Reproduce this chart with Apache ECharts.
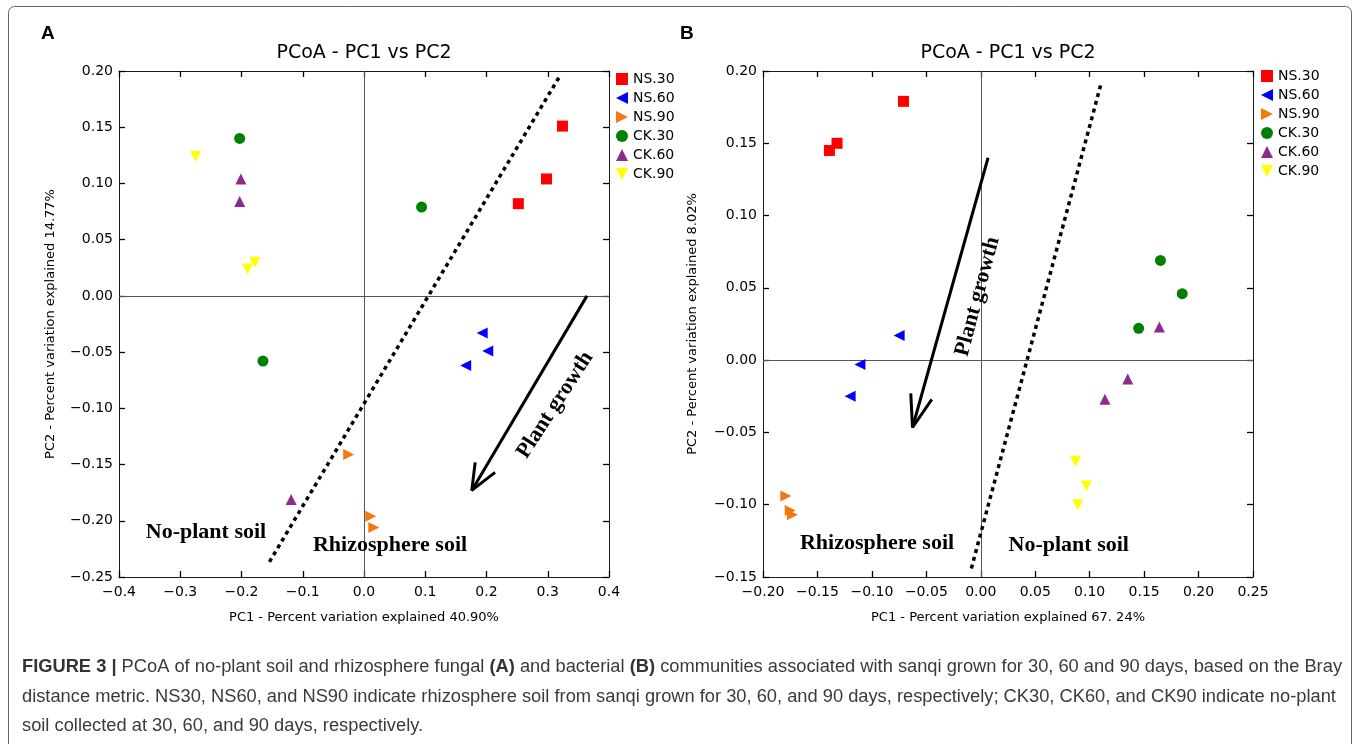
<!DOCTYPE html>
<html>
<head>
<meta charset="utf-8">
<title>PCoA - PC1 vs PC2</title>
<script src="https://cdn.jsdelivr.net/npm/echarts@6/dist/echarts.min.js"></script>
<style>
html, body { margin: 0; padding: 0; background: #fff; }
#chart { width: 1360px; height: 744px; }
</style>
</head>
<body>
<div id="chart"></div>
<script>
// groups shown in both legends
var groups = ['NS.30', 'NS.60', 'NS.90', 'CK.30', 'CK.60', 'CK.90'];
var groupColors = ['#ff0000', '#0000ff', '#f5780f', '#008000', '#8e2a8e', '#ffff00'];
var groupSymbols = [
    'rect',
    'path://M0,5L10,0L10,10Z',   // left triangle
    'path://M0,0L10,5L0,10Z',    // right triangle
    'circle',
    'path://M5,0L10,10L0,10Z',   // up triangle
    'path://M0,0L10,0L5,10Z'     // down triangle
];

// panel A - fungal communities, [PC1, PC2]
var fungalNS30 = [[0.324, 0.151], [0.298, 0.104], [0.252, 0.082]];
var fungalNS60 = [[0.193, -0.033], [0.202, -0.049], [0.166, -0.062]];
var fungalNS90 = [[-0.025, -0.141], [0.011, -0.196], [0.016, -0.206]];
var fungalCK30 = [[-0.203, 0.140], [0.094, 0.079], [-0.165, -0.058]];
var fungalCK60 = [[-0.201, 0.104], [-0.203, 0.084], [-0.119, -0.181]];
var fungalCK90 = [[-0.275, 0.124], [-0.190, 0.024], [-0.178, 0.030]];

// panel B - bacterial communities, [PC1, PC2]
var bactNS30 = [[-0.139, 0.145], [-0.132, 0.150], [-0.071, 0.179]];
var bactNS60 = [[-0.075, 0.017], [-0.111, -0.003], [-0.120, -0.025]];
var bactNS90 = [[-0.179, -0.094], [-0.175, -0.104], [-0.173, -0.107]];
var bactCK30 = [[0.145, 0.022], [0.165, 0.069], [0.185, 0.046]];
var bactCK60 = [[0.164, 0.023], [0.135, -0.013], [0.114, -0.027]];
var bactCK90 = [[0.087, -0.070], [0.097, -0.087], [0.089, -0.100]];

// separating dashed lines and "plant growth" arrows (data units)
var dividerA = [[0.318, 0.194], [-0.156, -0.238]];
var dividerB = [[0.110, 0.190], [-0.009, -0.145]];
var arrowA = [[0.364, 0.000], [0.176, -0.173]];
var arrowHeadA = [[0.1815, -0.148], [0.176, -0.173], [0.214, -0.157]];
var arrowB = [[0.0067, 0.140], [-0.0627, -0.0466]];
var arrowHeadB = [[-0.0643, -0.023], [-0.0627, -0.0466], [-0.045, -0.0272]];

// annotation texts: [x, y, text, rotate]
var notesA = [[-0.258, -0.210, 'No-plant soil', 0], [0.0425, -0.222, 'Rhizosphere soil', 0], [0.312, -0.097, 'Plant growth', 57]];
var notesB = [[-0.0953, -0.127, 'Rhizosphere soil', 0], [0.0808, -0.128, 'No-plant soil', 0], [-0.003, 0.044, 'Plant growth', 75]];

// axis ranges: min, max, step, decimals
var xRangeA = [-0.4, 0.4, 0.1, 1];
var yRangeA = [-0.25, 0.20, 0.05, 2];
var xRangeB = [-0.20, 0.25, 0.05, 2];
var yRangeB = [-0.15, 0.20, 0.05, 2];

var SANS = 'DejaVu Sans';

function fmt(v, d) {
    if (Math.abs(v) < 1e-9) v = 0;
    return v.toFixed(d).replace('-', '\u2212');
}

function makeAxis(range, grid, pos, name, gap) {
    var main = pos === 'bottom' || pos === 'left';
    var ax = {
        type: 'value',
        gridIndex: grid,
        position: pos,
        min: range[0],
        max: range[1],
        interval: range[2],
        axisLine: { show: true, onZero: false, lineStyle: { color: '#1a1a1a', width: 1 } },
        axisTick: { show: true, inside: true, length: 6, lineStyle: { color: '#000', width: 1.3 } },
        axisLabel: {
            show: main,
            margin: pos === 'bottom' ? 8 : 6,
            fontFamily: SANS,
            fontSize: 14,
            color: '#000',
            formatter: function(v) { return fmt(v, range[3]); }
        },
        splitLine: { show: false }
    };
    if (name) {
        ax.name = name;
        ax.nameLocation = 'middle';
        ax.nameGap = gap;
        ax.nameTextStyle = { fontFamily: SANS, fontSize: 13, color: '#000' };
    }
    return ax;
}

function scatterSet(xi, yi, sets) {
    return sets.map(function(d, i) {
        return {
            type: 'scatter',
            name: groups[i],
            xAxisIndex: xi,
            yAxisIndex: yi,
            data: d,
            symbol: groupSymbols[i],
            symbolSize: 11,
            itemStyle: { color: groupColors[i], opacity: 1 },
            z: 5
        };
    });
}

function lineSeries(xi, yi, data, style, extra) {
    var s = {
        type: 'line',
        xAxisIndex: xi,
        yAxisIndex: yi,
        data: data,
        symbol: 'none',
        silent: true,
        lineStyle: style,
        z: 3
    };
    if (extra) s.markLine = extra;
    return s;
}

function zeroLines() {
    return {
        silent: true,
        symbol: 'none',
        z: 1,
        label: { show: false },
        lineStyle: { color: '#555', width: 1, type: 'solid' },
        data: [{ xAxis: 0 }, { yAxis: 0 }]
    };
}

function noteSeries(xi, yi, notes) {
    return {
        type: 'scatter',
        xAxisIndex: xi,
        yAxisIndex: yi,
        symbolSize: 0.1,
        silent: true,
        itemStyle: { color: '#000', opacity: 1 },
        z: 4,
        data: notes.map(function(n) {
            return {
                value: [n[0], n[1]],
                label: {
                    show: true,
                    position: 'inside',
                    formatter: n[2],
                    rotate: n[3],
                    fontFamily: 'Liberation Serif',
                    fontWeight: 'bold',
                    fontSize: 22,
                    color: '#000',
                    opacity: 1,
                    textBorderWidth: 0
                }
            };
        })
    };
}

var dashStyle = { color: '#000', width: 3.5, type: [4, 4] };
var arrowStyle = { color: '#000', width: 3 };

var series = []
    .concat(scatterSet(0, 0, [fungalNS30, fungalNS60, fungalNS90, fungalCK30, fungalCK60, fungalCK90]))
    .concat(scatterSet(2, 2, [bactNS30, bactNS60, bactNS90, bactCK30, bactCK60, bactCK90]))
    .concat([
        lineSeries(0, 0, dividerA, dashStyle, zeroLines()),
        lineSeries(0, 0, arrowA, arrowStyle),
        lineSeries(0, 0, arrowHeadA, arrowStyle),
        lineSeries(2, 2, dividerB, dashStyle, zeroLines()),
        lineSeries(2, 2, arrowB, arrowStyle),
        lineSeries(2, 2, arrowHeadB, arrowStyle),
        noteSeries(0, 0, notesA),
        noteSeries(2, 2, notesB)
    ]);

function legendAt(left, top) {
    return {
        data: groups,
        orient: 'vertical',
        left: left,
        top: top,
        padding: 0,
        itemWidth: 12,
        itemHeight: 12,
        itemGap: 5,
        selectedMode: false,
        textStyle: { fontFamily: SANS, fontSize: 14, color: '#000' }
    };
}

function textEl(x, y, text, font, align, color) {
    return {
        type: 'text',
        x: x,
        y: y,
        silent: true,
        style: {
            text: text,
            font: font,
            fill: color || '#000',
            align: align || 'left',
            textAlign: align || 'left',
            verticalAlign: 'middle',
            textVerticalAlign: 'middle'
        }
    };
}

var capFont = '18.3px "Liberation Sans"';
var capRich = { b: { fontWeight: 'bold', fontFamily: 'Liberation Sans', fontSize: 18.3, fill: '#333', color: '#333' } };
function captionLine(y, text) {
    var el = textEl(22, y, text, capFont, 'left', '#3a3a3a');
    el.style.rich = capRich;
    return el;
}

var chart = echarts.init(document.getElementById('chart'), null, { renderer: 'canvas' });
chart.setOption({
    animation: false,
    backgroundColor: '#fff',
    grid: [
        { left: 119, top: 71, width: 490, height: 506, outerBoundsMode: 'none' },
        { left: 763, top: 71, width: 490, height: 506, outerBoundsMode: 'none' }
    ],
    xAxis: [
        makeAxis(xRangeA, 0, 'bottom', 'PC1 - Percent variation explained 40.90%', 34),
        makeAxis(xRangeA, 0, 'top'),
        makeAxis(xRangeB, 1, 'bottom', 'PC1 - Percent variation explained 67. 24%', 34),
        makeAxis(xRangeB, 1, 'top')
    ],
    yAxis: [
        makeAxis(yRangeA, 0, 'left', 'PC2 - Percent variation explained 14.77%', 62),
        makeAxis(yRangeA, 0, 'right'),
        makeAxis(yRangeB, 1, 'left', 'PC2 - Percent variation explained 8.02%', 64),
        makeAxis(yRangeB, 1, 'right')
    ],
    legend: [legendAt(616, 72), legendAt(1261, 69)],
    graphic: [
        {
            type: 'rect',
            silent: true,
            shape: { x: 8.5, y: 6.5, width: 1343, height: 800, r: 6 },
            style: { fill: 'none', stroke: '#666', lineWidth: 1 }
        },
        textEl(41, 34, 'A', 'bold 19px "Liberation Sans"'),
        textEl(680, 34, 'B', 'bold 19px "Liberation Sans"'),
        textEl(364, 53, 'PCoA - PC1 vs PC2', '19px "DejaVu Sans"', 'center'),
        textEl(1008, 53, 'PCoA - PC1 vs PC2', '19px "DejaVu Sans"', 'center'),
        captionLine(667, '{b|FIGURE 3 |} PCoA of no-plant soil and rhizosphere fungal {b|(A)} and bacterial {b|(B)} communities associated with sanqi grown for 30, 60 and 90 days, based on the Bray'),
        captionLine(697, 'distance metric. NS30, NS60, and NS90 indicate rhizosphere soil from sanqi grown for 30, 60, and 90 days, respectively; CK30, CK60, and CK90 indicate no-plant'),
        captionLine(726, 'soil collected at 30, 60, and 90 days, respectively.')
    ],
    series: series
});
</script>
</body>
</html>
